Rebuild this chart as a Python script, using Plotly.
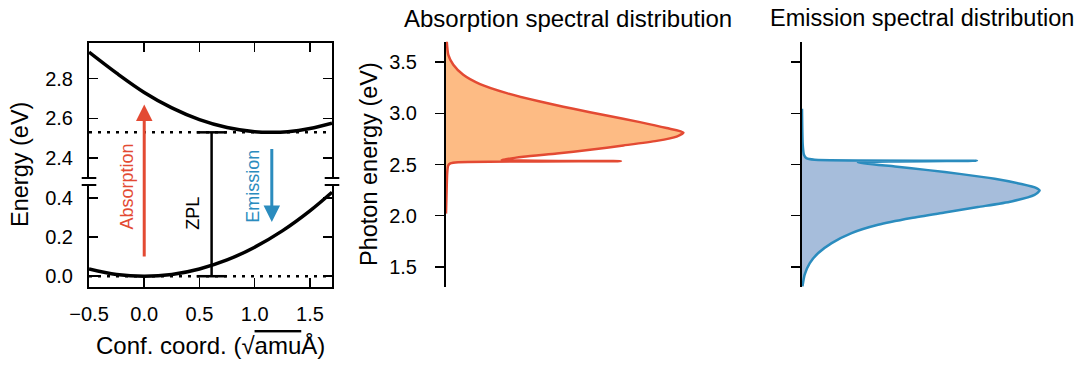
import plotly.graph_objects as go

# ---------------- data ----------------
# configuration coordinate diagram
Q_EXC = [-0.5, -0.25, 0.0, 0.25, 0.5, 0.75, 1.0, 1.15, 1.3, 1.5, 1.7]
E_EXC = [2.934, 2.828, 2.731, 2.653, 2.594, 2.554, 2.533, 2.530, 2.533, 2.549, 2.576]
Q_GND = [-0.5, -0.25, 0.0, 0.25, 0.5, 0.75, 1.0, 1.25, 1.5, 1.7]
E_GND = [0.037, 0.009, 0.0, 0.009, 0.037, 0.083, 0.148, 0.231, 0.333, 0.428]
ZPL_E = 2.53
GND_E = 0.0
ZPL_Q = 0.61
ABS_ARROW_Q = 0.0
ABS_ARROW_E = [0.093, 2.67]     # tail, head
EMI_ARROW_Q = 1.155
EMI_ARROW_E = [2.454, 0.276]    # tail, head

Q_TICKS = [-0.5, 0.0, 0.5, 1.0, 1.5]
Q_LABELS = ["\u22120.5", "0.0", "0.5", "1.0", "1.5"]
E_UP_TICKS = [2.4, 2.6, 2.8]
E_LO_TICKS = [0.0, 0.2, 0.4]
SPEC_TICKS = [1.5, 2.0, 2.5, 3.0, 3.5]

# absorption spectral distribution (photon energy, normalized intensity)
ABS_E = [2.02, 2.2, 2.42, 2.49, 2.51, 2.522, 2.533, 2.545,
         2.576, 2.608, 2.644, 2.686, 2.731, 2.773, 2.813, 2.856, 2.914,
         2.979, 3.044, 3.115, 3.197, 3.285, 3.376, 3.474, 3.571, 3.708]
ABS_I = [0.0, 0.002, 0.005, 0.009, 0.018, 0.05, 0.72, 0.229,
         0.318, 0.456, 0.593, 0.730, 0.867, 0.949, 0.977, 0.908, 0.798,
         0.661, 0.524, 0.387, 0.250, 0.140, 0.071, 0.030, 0.0095, 0.003]

# emission spectral distribution
EMI_E = [3.044, 2.692, 2.595, 2.562, 2.546, 2.536, 2.520,
         2.480, 2.445, 2.406, 2.360, 2.309, 2.270, 2.245, 2.204, 2.139,
         2.084, 2.031, 1.977, 1.911, 1.830, 1.732, 1.635, 1.537, 1.423, 1.309]
EMI_I = [0.0, 0.003, 0.008, 0.018, 0.052, 0.72, 0.23,
         0.382, 0.519, 0.656, 0.793, 0.903, 0.965, 0.978, 0.957, 0.862,
         0.724, 0.587, 0.450, 0.313, 0.204, 0.122, 0.067, 0.032, 0.011, 0.002]

# ---------------- layout geometry ----------------
W, H = 1084, 365
def px(v):
    return v / W
def py(v):
    return 1 - v / H

Q_RANGE = [-0.5, 1.7]
E_UP = [2.30, 2.98]
E_LO = [-0.055, 0.465]
SPEC_RANGE = [1.3, 3.7]
INT_RANGE = [0.0, 1.0]

L_X = [px(89), px(332)]
UP_Y = [py(178), py(43)]
LO_Y = [py(287), py(185)]
M_X = [px(446), px(689)]
R_X = [px(802), px(1045)]
S_Y = [py(287.3), py(41.7)]

def e_paper(e):
    """map an energy of the broken left axis to paper coordinates"""
    if e >= E_UP[0]:
        d, r = UP_Y, E_UP
    else:
        d, r = LO_Y, E_LO
    return d[0] + (e - r[0]) / (r[1] - r[0]) * (d[1] - d[0])

FONT = "Liberation Sans, Arial, Helvetica, sans-serif"
BLACK = "black"
ABS_LINE, ABS_FILL = "#e34a33", "#fdbb84"
EMI_LINE, EMI_FILL = "#2b8cbe", "#a6bddb"
TICK_FONT = dict(family=FONT, size=20, color=BLACK)

fig = go.Figure()

# potential energy surfaces
fig.add_trace(go.Scatter(x=Q_EXC, y=E_EXC, xaxis="x", yaxis="y", mode="lines",
                         line=dict(color=BLACK, width=3.5, shape="spline"), hoverinfo="skip"))
fig.add_trace(go.Scatter(x=Q_GND, y=E_GND, xaxis="x2", yaxis="y2", mode="lines",
                         line=dict(color=BLACK, width=3.5, shape="spline"), hoverinfo="skip"))
# dotted reference levels
fig.add_trace(go.Scatter(x=Q_RANGE, y=[ZPL_E, ZPL_E], xaxis="x", yaxis="y", mode="lines",
                         line=dict(color=BLACK, width=2.5, dash="3px,6px"), hoverinfo="skip"))
fig.add_trace(go.Scatter(x=Q_RANGE, y=[GND_E, GND_E], xaxis="x2", yaxis="y2", mode="lines",
                         line=dict(color=BLACK, width=2.5, dash="3px,6px"), hoverinfo="skip"))

# spectra
fig.add_trace(go.Scatter(x=ABS_I, y=ABS_E, xaxis="x3", yaxis="y3", mode="lines",
                         fill="tozerox", fillcolor=ABS_FILL,
                         line=dict(color=ABS_LINE, width=2.5, shape="spline", smoothing=0.6),
                         hoverinfo="skip"))
fig.add_trace(go.Scatter(x=EMI_I, y=EMI_E, xaxis="x4", yaxis="y4", mode="lines",
                         fill="tozerox", fillcolor=EMI_FILL,
                         line=dict(color=EMI_LINE, width=2.5, shape="spline", smoothing=0.6),
                         hoverinfo="skip"))

common = dict(showline=True, linecolor=BLACK, linewidth=2, showgrid=False, zeroline=False,
              tickcolor=BLACK, tickwidth=1.5, ticklen=9, tickfont=TICK_FONT)

fig.update_layout(
    width=W, height=H, template="none",
    margin=dict(l=0, r=0, t=0, b=0),
    paper_bgcolor="white", plot_bgcolor="rgba(0,0,0,0)",
    showlegend=False,
    xaxis=dict(domain=L_X, range=Q_RANGE, anchor="y", side="top", ticks="inside",
               tickvals=Q_TICKS, showticklabels=False, **common),
    yaxis=dict(domain=UP_Y, range=E_UP, anchor="x", ticks="inside", mirror="ticks",
               tickvals=E_UP_TICKS, tickformat=".1f", ticklabelstandoff=10, **common),
    xaxis2=dict(domain=L_X, range=Q_RANGE, anchor="y2", side="bottom", ticks="inside",
                tickvals=Q_TICKS, ticktext=Q_LABELS, ticklabelstandoff=8, **common),
    yaxis2=dict(domain=LO_Y, range=E_LO, anchor="x2", ticks="inside", mirror="ticks",
                tickvals=E_LO_TICKS, tickformat=".1f", ticklabelstandoff=10, **common),
    xaxis3=dict(domain=M_X, range=INT_RANGE, anchor="y3", visible=False),
    yaxis3=dict(domain=S_Y, range=SPEC_RANGE, anchor="x3", ticks="outside",
                tickvals=SPEC_TICKS, tickformat=".1f", ticklabelstandoff=14, **common),
    xaxis4=dict(domain=R_X, range=INT_RANGE, anchor="y4", visible=False),
    yaxis4=dict(domain=S_Y, range=SPEC_RANGE, anchor="x4", ticks="outside",
                tickvals=SPEC_TICKS, showticklabels=False, **common),
)

shapes = []
# axis break marks
for yref, yv in (("y domain", 0), ("y2 domain", 1)):
    for xc in (0, 1):
        shapes.append(dict(type="line", xref="x domain", yref=yref, x0=xc - 0.03, x1=xc + 0.03,
                           y0=yv, y1=yv, line=dict(color=BLACK, width=2)))
# ZPL bar with caps
shapes.append(dict(type="line", xref="x", yref="paper", x0=ZPL_Q, x1=ZPL_Q,
                   y0=e_paper(GND_E), y1=e_paper(ZPL_E), line=dict(color=BLACK, width=2.5)))
for yref, yv in (("y", ZPL_E), ("y2", GND_E)):
    shapes.append(dict(type="line", xref="x", xsizemode="pixel", xanchor=ZPL_Q, x0=-15, x1=15,
                       yref=yref, y0=yv, y1=yv, line=dict(color=BLACK, width=2.5)))
fig.update_layout(shapes=shapes)

ann = []
def arrow(q, e_tail, e_head, color):
    y_head = e_paper(e_head)
    y_tail = e_paper(e_tail)
    return dict(x=q, xref="x", y=y_head, yref="paper", ax=0, axref="pixel",
                ay=(y_head - y_tail) * H, ayref="pixel", text="", showarrow=True,
                arrowhead=2, arrowsize=1.1, arrowwidth=3, arrowcolor=color, standoff=0)
ann.append(arrow(ABS_ARROW_Q, ABS_ARROW_E[0], ABS_ARROW_E[1], ABS_LINE))
ann.append(arrow(EMI_ARROW_Q, EMI_ARROW_E[0], EMI_ARROW_E[1], EMI_LINE))

def label(text, x, y, size, color=BLACK, angle=0, xref="paper"):
    return dict(text=text, x=x, y=y, xref=xref, yref="paper", showarrow=False,
                textangle=angle, xanchor="center", yanchor="middle",
                font=dict(family=FONT, size=size, color=color))

ann.append(label("Absorption", -0.157, py(186.7), 18, ABS_LINE, -90, "x"))
ann.append(label("Emission", 0.985, py(186.7), 18, EMI_LINE, -90, "x"))
ann.append(label("ZPL", 0.44, py(213), 18, BLACK, -90, "x"))
ann.append(label("Energy (eV)", px(20), py(165), 23.5, angle=-90))
ann.append(label("Photon energy (eV)", px(369), py(164), 23.5, angle=-90))
ann.append(label("Conf. coord. (\u221a<span style='text-decoration:overline'>amu</span>\u00c5)",
                 px(210.5), py(345.8), 24))
ann.append(label("Absorption spectral distribution", px(567.5), py(18.3), 24))
ann.append(label("Emission spectral distribution", px(922), py(18.3), 23.5))
fig.update_layout(annotations=ann)

# drop the default 8px page margin so the figure fills the window exactly
fig.write_html("out.html", config={"displayModeBar": False, "staticPlot": True},
               post_script="document.body.style.margin='0';")
